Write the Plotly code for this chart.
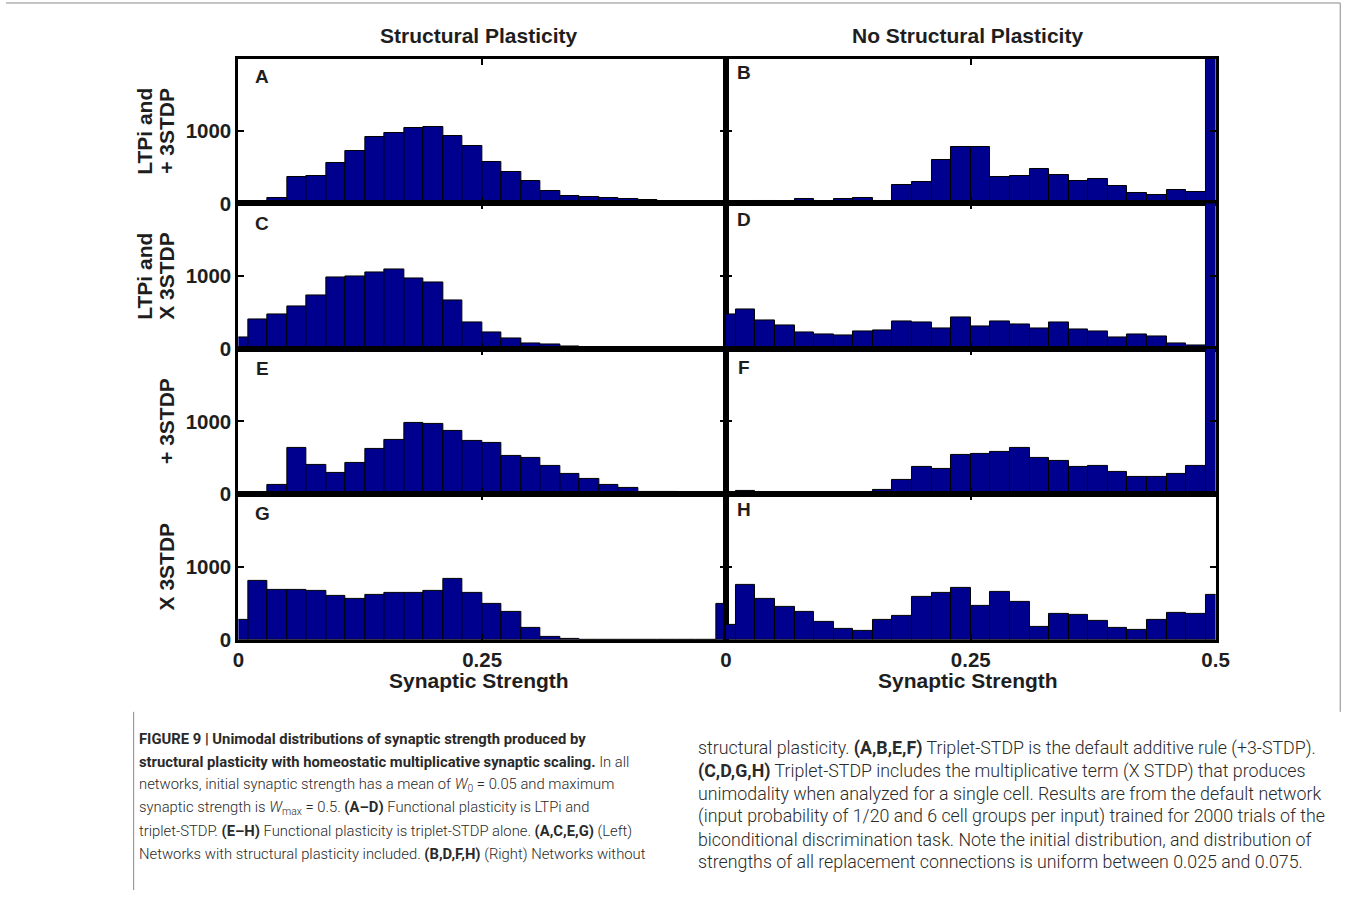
import plotly.graph_objects as go

# ---------------- data (histogram counts, bins centred at 0, 0.02, ..., 0.5) ----------------
bin_centers = [round(0.02 * i, 2) for i in range(26)]

panel_A = [0, 19, 79, 363, 377, 558, 721, 926, 977, 1051, 1065, 935, 800, 581, 437, 316,
           172, 102, 88, 70, 60, 42, 0, 0, 0, 0]
panel_B = [0, 0, 37, 19, 56, 19, 65, 74, 33, 256, 298, 605, 781, 781, 367, 386,
           479, 395, 307, 340, 242, 149, 116, 186, 153, 2600]
panel_C = [153, 400, 474, 586, 735, 981, 1000, 1047, 1093, 972, 916, 660, 363, 228, 140, 79,
           60, 28, 14, 5, 0, 0, 0, 0, 0, 0]
panel_D = [474, 540, 395, 321, 223, 200, 186, 247, 260, 377, 358, 279, 428, 307, 381, 330,
           284, 358, 265, 247, 153, 195, 167, 79, 47, 2600]
panel_E = [0, 19, 117, 629, 399, 286, 427, 615, 746, 986, 962, 864, 737, 700, 526, 498,
           380, 282, 207, 127, 80, 33, 23, 14, 5, 9]
panel_F = [0, 37, 0, 0, 0, 0, 9, 0, 60, 186, 377, 349, 540, 553, 581, 637,
           502, 451, 377, 391, 298, 237, 233, 279, 391, 2600]
panel_G = [267, 802, 691, 682, 668, 604, 567, 622, 650, 650, 677, 839, 645, 488, 382, 161,
           46, 18, 0, 0, 0, 0, 0, 0, 0, 493]
panel_H = [201, 758, 557, 447, 379, 247, 151, 123, 269, 333, 584, 644, 717, 470, 662, 525,
           174, 356, 347, 265, 169, 137, 269, 374, 361, 612]

panels = [panel_A, panel_B, panel_C, panel_D, panel_E, panel_F, panel_G, panel_H]
panel_letters = ["A", "B", "C", "D", "E", "F", "G", "H"]
column_titles = ["Structural Plasticity", "No Structural Plasticity"]
row_labels = [("LTPi and", "+ 3STDP"), ("LTPi and", "X 3STDP"), (None, "+ 3STDP"), (None, "X 3STDP")]
x_tickvals = [0, 0.25, 0.5]
x_ticktext_left = ["0", "0.25", ""]
x_ticktext_right = ["0", "0.25", "0.5"]
y_tickvals = [0, 1000]
y_ticktext = ["0", "1000"]
x_title = "Synaptic Strength"

caption_left = [
    "<b>FIGURE 9 | Unimodal distributions of synaptic strength produced by</b>",
    "<b>structural plasticity with homeostatic multiplicative synaptic scaling.</b> In all",
    "networks, initial synaptic strength has a mean of <i>W</i><sub>0</sub> = 0.05 and maximum",
    "synaptic strength is <i>W</i><sub>max</sub> = 0.5. <b>(A–D)</b> Functional plasticity is LTPi and",
    "triplet-STDP. <b>(E–H)</b> Functional plasticity is triplet-STDP alone. <b>(A,C,E,G)</b> (Left)",
    "Networks with structural plasticity included. <b>(B,D,F,H)</b> (Right) Networks without",
]
caption_right = [
    "structural plasticity. <b>(A,B,E,F)</b> Triplet-STDP is the default additive rule (+3-STDP).",
    "<b>(C,D,G,H)</b> Triplet-STDP includes the multiplicative term (X STDP) that produces",
    "unimodality when analyzed for a single cell. Results are from the default network",
    "(input probability of 1/20 and 6 cell groups per input) trained for 2000 trials of the",
    "biconditional discrimination task. Note the initial distribution, and distribution of",
    "strengths of all replacement connections is uniform between 0.025 and 0.075.",
]

# ---------------- layout geometry (target screen pixels) ----------------
W, H = 1354, 901
S, OX = 0.988, 3.0          # compensation for the capture scaling observed

def fx(p):
    return ((p - OX) / S) / W

def fy(p):
    return 1 - (p / S) / H

col_px = [(236, 725), (725, 1216)]
row_edges = [59, 203.5, 349, 494, 640]
letter_pos = [(260, 77), (743, 73), (260, 224), (743, 220),
              (260, 369), (743, 368), (260, 514), (743, 510)]

BAR_COLOR = "#00008F"
INK = "#1e1e1e"
bold_font = dict(family="Liberation Sans, Arial, sans-serif", color=INK, weight="bold")

fig = go.Figure()
layout_axes = {}
annotations = []

for i, vals in enumerate(panels):
    r, c = divmod(i, 2)
    k = i + 1
    xname = "x" if k == 1 else f"x{k}"
    yname = "y" if k == 1 else f"y{k}"
    fig.add_trace(go.Bar(
        x=bin_centers, y=vals, width=0.02,
        marker=dict(color=BAR_COLOR, line=dict(color="black", width=1)),
        xaxis=xname, yaxis=yname, showlegend=False, hoverinfo="x+y",
    ))
    x0, x1 = col_px[c]
    ytop, ybot = row_edges[r], row_edges[r + 1]
    common = dict(showline=True, linecolor="black", linewidth=3, mirror="ticks",
                  ticks="inside", ticklen=6, tickwidth=2, tickcolor="black",
                  showgrid=False, zeroline=False)
    layout_axes["xaxis" if k == 1 else f"xaxis{k}"] = dict(
        domain=[fx(x0), fx(x1)], range=[0, 0.5], anchor=yname,
        tickvals=x_tickvals, ticktext=(x_ticktext_left if c == 0 else x_ticktext_right),
        showticklabels=(r == 3), tickfont=dict(size=20.5, **bold_font), **common)
    layout_axes["yaxis" if k == 1 else f"yaxis{k}"] = dict(
        domain=[fy(ybot), fy(ytop)], range=[0, 2000], anchor=xname,
        tickvals=y_tickvals, ticktext=y_ticktext,
        showticklabels=(c == 0), tickfont=dict(size=20.5, **bold_font), **common)
    lx, ly = letter_pos[i]
    annotations.append(dict(x=fx(lx), y=fy(ly), xref="paper", yref="paper",
                            text=f"<b>{panel_letters[i]}</b>", showarrow=False,
                            xanchor="center", yanchor="middle",
                            font=dict(size=19, **bold_font)))

# column titles and x-axis titles
title_cx = [477.5, 967.5]
for c, title in enumerate(column_titles):
    annotations.append(dict(x=fx(title_cx[c]), y=fy(36), xref="paper", yref="paper",
                            text=f"<b>{title}</b>", showarrow=False,
                            xanchor="center", yanchor="middle", font=dict(size=21, **bold_font)))
    annotations.append(dict(x=fx(title_cx[c]), y=fy(681), xref="paper", yref="paper",
                            text=f"<b>{x_title}</b>", showarrow=False,
                            xanchor="center", yanchor="middle", font=dict(size=21, **bold_font)))

# row labels (rotated)
for r, (l1, l2) in enumerate(row_labels):
    cy = (row_edges[r] + row_edges[r + 1]) / 2
    if l1:
        annotations.append(dict(x=fx(142), y=fy(cy), xref="paper", yref="paper",
                                text=f"<b>{l1}</b>", showarrow=False, textangle=-90,
                                xanchor="center", yanchor="middle", font=dict(size=21, **bold_font)))
    annotations.append(dict(x=fx(164), y=fy(cy), xref="paper", yref="paper",
                            text=f"<b>{l2}</b>", showarrow=False, textangle=-90,
                            xanchor="center", yanchor="middle", font=dict(size=21, **bold_font)))

# caption
cap_left_font = dict(family="Roboto, Liberation Sans, sans-serif", size=14.8, color="#2a2a2a", weight=300)
cap_right_font = dict(family="Roboto, Liberation Sans, sans-serif", size=17.8, color="#2a2a2a", weight=300)
for j, line in enumerate(caption_left):
    annotations.append(dict(x=fx(134), y=fy(739 + j * 23), xref="paper", yref="paper",
                            text=line, showarrow=False, xanchor="left", yanchor="middle",
                            align="left", font=cap_left_font))
for j, line in enumerate(caption_right):
    annotations.append(dict(x=fx(695), y=fy(748 + j * 22.8), xref="paper", yref="paper",
                            text=line, showarrow=False, xanchor="left", yanchor="middle",
                            align="left", font=cap_right_font))

frame = dict(color="#8a8a8a", width=1)
shapes = [
    dict(type="line", xref="paper", yref="paper", x0=0, x1=fx(1341), y0=fy(3), y1=fy(3), line=frame),
    dict(type="line", xref="paper", yref="paper", x0=fx(1341), x1=fx(1341), y0=fy(3), y1=fy(712), line=frame),
    dict(type="line", xref="paper", yref="paper", x0=fx(131), x1=fx(131), y0=fy(712), y1=0, line=frame),
]

fig.update_layout(
    width=W, height=H, margin=dict(l=0, r=0, t=0, b=0),
    paper_bgcolor="white", plot_bgcolor="white",
    annotations=annotations, shapes=shapes, bargap=0,
    **layout_axes,
)

fig.write_html("out.html")
